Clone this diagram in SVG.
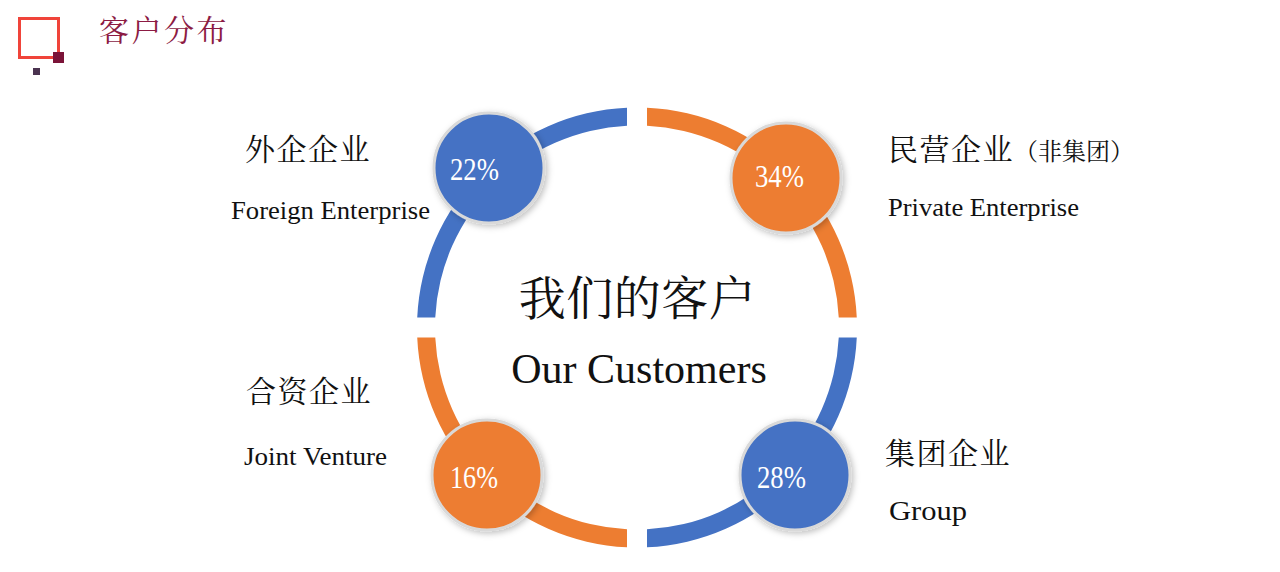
<svg xmlns="http://www.w3.org/2000/svg" width="1280" height="572" viewBox="0 0 1280 572">
  <defs>
    <style>
      .cn { font-family: "Liberation Serif", "Noto Serif CJK SC", "Noto Sans CJK SC", serif; fill: #111; }
      .en { font-family: "Liberation Serif", "Times New Roman", serif; fill: #111; }
      .pct { font-family: "Liberation Serif", "Times New Roman", serif; fill: #fff; font-size: 32px; text-anchor: middle; }
      .blue { fill: #4472C4; }
      .orange { fill: #ED7D31; }
      .dot { stroke: #D9D9D9; stroke-width: 3; filter: url(#sh); }
    </style>
    <filter id="sh" x="-30%" y="-30%" width="160%" height="160%">
      <feDropShadow dx="2" dy="2" stdDeviation="3" flood-color="#000" flood-opacity="0.25"/>
    </filter>
  </defs>
  <rect width="1280" height="572" fill="#fff"/>

  <g id="logo">
    <rect x="19.5" y="18.5" width="39" height="39" fill="none" stroke="#F0443A" stroke-width="3"/>
    <rect x="53" y="52" width="11" height="11" fill="#7B1338"/>
    <rect x="33" y="68" width="7" height="7" fill="#4B3350"/>
  </g>
  <g id="title">
    <text class="cn" x="99" y="41" font-size="30" letter-spacing="2.5" style="fill:#8C1B43">客户分布</text>
  </g>

  <g id="ring">
    <path class="blue" d="M627,107.73 A220,220 0 0 0 417.23,317.5 L435.25,317.5 A202,202 0 0 1 627,125.75 Z"/>
    <path class="orange" d="M647,107.73 A220,220 0 0 1 856.77,317.5 L838.75,317.5 A202,202 0 0 0 647,125.75 Z"/>
    <path class="orange" d="M627,547.27 A220,220 0 0 1 417.23,337.5 L435.25,337.5 A202,202 0 0 0 627,529.25 Z"/>
    <path class="blue" d="M647,547.27 A220,220 0 0 0 856.77,337.5 L838.75,337.5 A202,202 0 0 1 647,529.25 Z"/>
  </g>

  <g id="center">
    <text class="cn" x="637.5" y="315" font-size="47" letter-spacing="0.5" text-anchor="middle">我们的客户</text>
    <text class="en" x="639" y="383" font-size="42" text-anchor="middle">Our Customers</text>
  </g>

  <g id="foreign">
    <circle class="blue dot" cx="489" cy="168" r="55"/>
    <text class="pct" x="474.5" y="180" textLength="49" lengthAdjust="spacingAndGlyphs">22%</text>
    <text class="cn" x="245" y="160" font-size="30" letter-spacing="1.5">外企企业</text>
    <text class="en" x="231" y="219" font-size="25" textLength="199" lengthAdjust="spacingAndGlyphs">Foreign Enterprise</text>
  </g>

  <g id="private">
    <circle class="orange dot" cx="786" cy="178" r="55"/>
    <text class="pct" x="779.5" y="187" textLength="49" lengthAdjust="spacingAndGlyphs">34%</text>
    <text class="cn" x="888" y="160" font-size="30" letter-spacing="1.5">民营企业<tspan font-size="24" letter-spacing="0">（非集团）</tspan></text>
    <text class="en" x="888" y="216" font-size="25" textLength="191" lengthAdjust="spacingAndGlyphs">Private Enterprise</text>
  </g>

  <g id="joint">
    <circle class="orange dot" cx="487" cy="475" r="55"/>
    <text class="pct" x="474" y="488" textLength="48" lengthAdjust="spacingAndGlyphs">16%</text>
    <text class="cn" x="246" y="402" font-size="30" letter-spacing="1.5">合资企业</text>
    <text class="en" x="244" y="465" font-size="25" textLength="143" lengthAdjust="spacingAndGlyphs">Joint Venture</text>
  </g>

  <g id="group">
    <circle class="blue dot" cx="795" cy="475" r="55"/>
    <text class="pct" x="781.5" y="488" textLength="49" lengthAdjust="spacingAndGlyphs">28%</text>
    <text class="cn" x="885" y="464" font-size="30" letter-spacing="1.5">集团企业</text>
    <text class="en" x="889" y="520" font-size="28" textLength="78" lengthAdjust="spacingAndGlyphs">Group</text>
  </g>
</svg>
